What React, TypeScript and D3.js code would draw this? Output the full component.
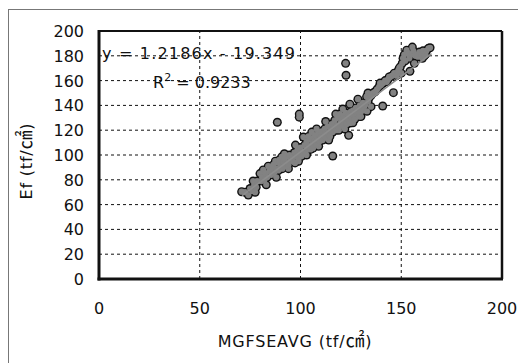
import React from "react";
import * as d3 from "d3";

const bandX = [70.8,74.1,72.5,75,76,77,78,78.5,79.9,80.5,81,82,82.5,83.5,84,84.5,85.5,86,86.5,87,88,88.5,89,89.5,90,90.7,91,91.5,92,92.5,93,93.5,94,94.5,95,96,96.5,97,97.3,98,98.5,99,99.5,100,100.5,101,101.4,102,102.5,103,103.5,104,104.5,105,105.6,106,106.2,106.5,107,107.5,108,108.5,109,109.5,110,110.5,111,111.5,112,112.5,113,113.5,114,114.6,115,115.5,116,116.5,117,117.5,118,118.5,119,119.6,120,120.5,121,121.5,122,122.5,123,123.5,124,124.6,125,125.5,126.2,126.5,127,127.5,128,128.5,129,129.5,130,130.5,131,131.5,132,132.8,133,133.5,134,135,136,137,138,139,140,141,142,142.8,143.5,144.5,145.5,146.5,147.7,148.5,149.5,150.5,150.9,151.5,152,152.7,153.5,154,154.3,155,156,157,157.7,158.3,159,160,160.8,161.5,162.5,163.5,164.3];
const bandY = [70.4,67.7,70,73,71,75.5,74,79,85,79,82,79.5,85,82,91,87,84,88,92,86,89,94,87.5,96,91,98.5,89,94,97,91,99,94,92,100,96,98,94.5,102,93.6,99,104,97,101,106,99,103,114.5,108,101.5,111,105,108,113,104.5,118.5,109,105.5,114,111,116,108.5,112,117,111,114,119,112,116,121,114,118,123,116,115,120,125,118.5,122,128,120,124,130,122,133,126,129,123.5,131,127,134,125,129,132,125.8,135,130,136,132,129,138,133.5,137,131,140,135,138,142,136,140,147,135.3,143,146,148,150,151,153,155,156.5,158,160,159,161,163,164,166,164,168,171,174,178,181,176,184.5,182,178,167.5,181,184,180,181,179.3,183,181,184,180,184,186,186.5];

const edgeX = [76.5,77.5,81.5,83,87.5,88,92,94,97.5,99,104,103,108,109,112.5,114,117.5,119,121,122,124.5,126,128.5,130,133.5,135,139.5,144,149,150,155.5,156.5,160.5,162];
const edgeY = [79,70,88,76,95,82,101,89,108,95,115,100,121,107,127,112,133,120,137,121,141,126,145,131,150,139,158,163,170,166,187,174,178,181];

const outlierX = [122.4,122.6,146.1,140.8,99.4,99.4,88.5,123.9,116.0];
const outlierY = [173.9,164.3,150.3,139.5,133,130.5,126.4,115.9,99.2];

const xTicks = [0, 50, 100, 150, 200];
const yTicks = [0, 20, 40, 60, 80, 100, 120, 140, 160, 180, 200];

const slope = 1.2186;
const intercept = -19.349;
const rSquared = "0.9233";
const trendRange = [71, 165];

const FONT = "'DejaVu Sans', 'Noto Sans CJK JP', sans-serif";

export default function App() {
  const x = d3.scaleLinear().domain([0, 200]).range([99, 502]);
  const y = d3.scaleLinear().domain([0, 200]).range([279, 31]);

  const pts = edgeX.map((v, i) => [v, edgeY[i]])
    .concat(bandX.map((v, i) => [v, bandY[i]]))
    .concat(outlierX.map((v, i) => [v, outlierY[i]]));
  const line = d3.line<number>().x((d) => x(d)).y((d) => y(slope * d + intercept));

  return (
    <svg width={518} height={363} style={{ position: "absolute", left: 0, top: 0, background: "#fff" }} fontFamily={FONT}>
      <rect x={0} y={0} width={518} height={363} fill="#fff" />
      <rect x={8.5} y={9.5} width={540} height={400} fill="none" stroke="#777" strokeWidth={1} />
      {yTicks.filter((t) => t > 0 && t < 200).map((t) => (
        <line key={"gy" + t} x1={x(0)} x2={x(200)} y1={y(t)} y2={y(t)} stroke="#111" strokeWidth={1} strokeDasharray="3,3" />
      ))}
      {xTicks.filter((t) => t > 0 && t < 200).map((t) => (
        <line key={"gx" + t} x1={x(t)} x2={x(t)} y1={y(0)} y2={y(200)} stroke="#111" strokeWidth={1} strokeDasharray="3,3" />
      ))}
      <text x={102} y={59} fontSize={16} fill="#111" textLength={193} lengthAdjust="spacing">y = 1.2186x - 19.349</text>
      <text x={153} y={88} fontSize={16} fill="#111">
        R<tspan dy={-7} fontSize={11}>2</tspan><tspan dy={7}> = {rSquared}</tspan>
      </text>
      <g>
        {pts.map((p, i) => (
          <circle key={"o" + i} cx={x(p[0])} cy={y(p[1])} r={4.5} fill="#111" />
        ))}
      </g>
      <g>
        {pts.map((p, i) => (
          <circle key={"f" + i} cx={x(p[0])} cy={y(p[1])} r={3.1} fill="#828282" />
        ))}
      </g>
      <path d={line(trendRange) || ""} stroke="#8c8c8c" strokeWidth={1.5} fill="none" />
      <line x1={x(0)} x2={x(200)} y1={y(200)} y2={y(200)} stroke="#111" strokeWidth={2} />
      <line x1={x(200)} x2={x(200)} y1={y(200)} y2={y(0)} stroke="#111" strokeWidth={2.5} />
      <line x1={x(0)} x2={x(0)} y1={y(200) - 1} y2={y(0) + 1.5} stroke="#111" strokeWidth={3} />
      <line x1={x(0) - 1.5} x2={x(200) + 1} y1={y(0)} y2={y(0)} stroke="#111" strokeWidth={3} />
      {yTicks.map((t) => (
        <text key={"yl" + t} x={84} y={y(t) + 6} fontSize={16} textAnchor="end" fill="#111">{t}</text>
      ))}
      {xTicks.map((t) => (
        <text key={"xl" + t} x={x(t)} y={314} fontSize={16} textAnchor="middle" fill="#111">{t}</text>
      ))}
      <text x={295} y={347} fontSize={16} textAnchor="middle" fill="#111" letterSpacing={0.8}>
        MGFSEAVG (tf/<tspan fontSize={19}>㎠</tspan>)
      </text>
      <text transform="translate(32,161) rotate(-90)" fontSize={16} textAnchor="middle" fill="#111" letterSpacing={0.8}>
        Ef (tf/<tspan fontSize={19}>㎠</tspan>)
      </text>
    </svg>
  );
}
